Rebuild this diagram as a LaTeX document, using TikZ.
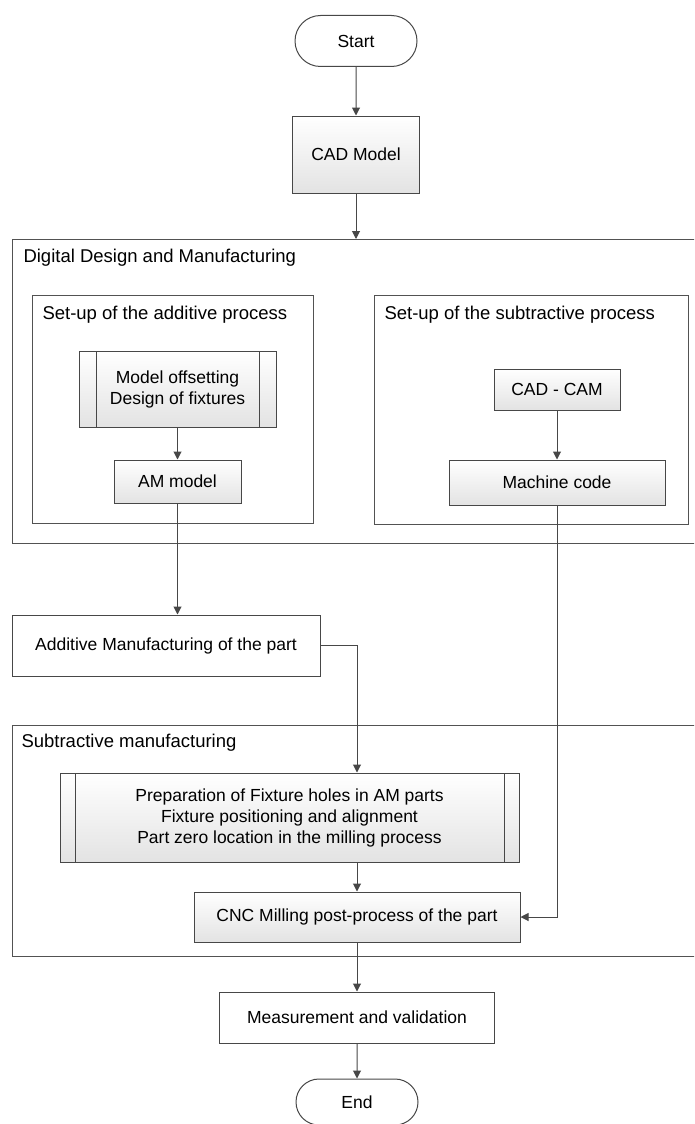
\documentclass[tikz,border=0pt]{standalone}
\usepackage{fontspec}
\setmainfont{Liberation Sans}
\usetikzlibrary{arrows.meta,positioning,shapes.misc}

\tikzset{
  block/.style={draw=black!72, line width=1pt, align=center, inner sep=2pt,
    font=\fontsize{17.5}{21}\selectfont},
  shaded/.style={block, top color=white, bottom color=black!11},
  subproc/.style={shaded, path picture={
      \draw[-, black!72, line width=1pt]
        ([xshift=#1]path picture bounding box.north west) -- ([xshift=#1]path picture bounding box.south west)
        ([xshift=-#1]path picture bounding box.north east) -- ([xshift=-#1]path picture bounding box.south east);}},
  terminal/.style={block, rounded rectangle, minimum width=126pt},
  frame/.style={draw=black!68, line width=1pt, anchor=north west, inner sep=0pt},
  title/.style={anchor=west, inner sep=0pt, font=\fontsize{18.5}{21}\selectfont},
}

\begin{document}
\begin{tikzpicture}[x=1pt,y=-1pt,->,>={Triangle[length=8pt,width=8pt]},line width=1pt]

  \clip (0,0) rectangle (694,1124);

  % frames
  \node[frame] (ddm) [minimum width=690pt, minimum height=304pt] at (12,239) {};
  \node[title] (ddmtitle) at (23,258) {Digital Design and Manufacturing};
  \node[frame] (addset) [minimum width=281pt, minimum height=228pt] at (32,295) {};
  \node[title] (addtitle) at (42,315) {Set-up of the additive process};
  \node[frame] (subset) [minimum width=314pt, minimum height=229pt] at (374,295) {};
  \node[title] (subtitle) at (384,315) {Set-up of the subtractive process};
  \node[frame] (sm) [minimum width=690pt, minimum height=231pt] at (12,725) {};
  \node[title] (smtitle) at (21,743) {Subtractive manufacturing};

  % steps
  \node[terminal] (start) [minimum height=51pt] at (356,41) {Start};
  \node[shaded] (cad) [below=48.5pt of start, minimum width=127pt, minimum height=77pt] {CAD Model};
  \node[subproc=17pt] (offset) [minimum width=197pt, minimum height=76pt] at (177.5,389) {Model offsetting\\Design of fixtures};
  \node[shaded] (ammodel) [below=32pt of offset, minimum width=127pt, minimum height=43pt] {AM model};
  \node[shaded] (cadcam) [minimum width=126pt, minimum height=41pt] at (557,389.5) {CAD - CAM};
  \node[shaded] (mcode) [below=49pt of cadcam, minimum width=216pt, minimum height=45pt] {Machine code};
  \node[block] (amfab) [minimum width=308pt, minimum height=61pt] at (166,645.5) {Additive Manufacturing of the part};
  \node[subproc=15pt] (prep) [minimum width=459pt, minimum height=89pt] at (289.5,817.5)
    {Preparation of Fixture holes in AM parts\\Fixture positioning and alignment\\Part zero location in the milling process};
  \node[shaded] (cnc) [minimum width=326pt, minimum height=50pt] at (357,917) {CNC Milling post-process of the part};
  \node[block] (meas) [below=49pt of cnc, minimum width=275pt, minimum height=51pt] {Measurement and validation};
  \node[terminal] (end) [below=35pt of meas, minimum height=46pt] {End};

  \path[every edge/.style={draw=black!72}]
    (start) edge (cad)
    (cad.south) edge (cad.south |- ddm.north)
    (offset) edge (ammodel)
    (ammodel.south) edge (ammodel.south |- amfab.north)
    (cadcam) edge (mcode)
    (cnc.north |- prep.south) edge (cnc.north)
    (cnc) edge (meas)
    (meas) edge (end);
  \draw[draw=black!72] (amfab.east) -| (prep.north -| cnc.north);
  \draw[draw=black!72] (mcode.south) |- (cnc.east);

\end{tikzpicture}
\end{document}
